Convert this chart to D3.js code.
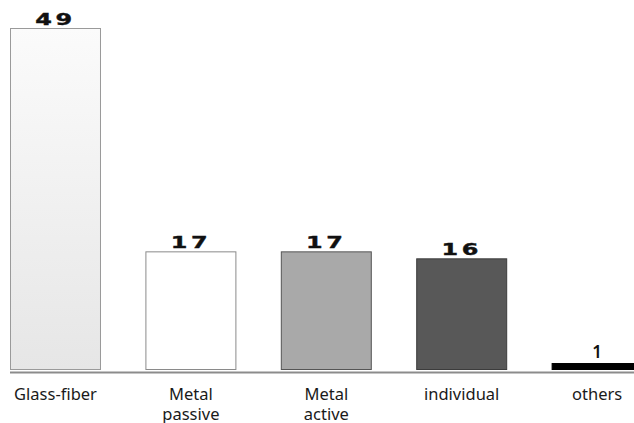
<!DOCTYPE html>
<html>
<head>
<meta charset="utf-8">
<script src="https://cdn.jsdelivr.net/npm/d3@7/dist/d3.min.js"></script>
<style>
  html, body { margin: 0; padding: 0; background: #fff; }
  svg { display: block; }
</style>
</head>
<body>
<svg id="chart" width="634" height="423"></svg>
<script>
// Categories (multi-line labels split on "|") and their counts
const categories = ["Glass-fiber", "Metal|passive", "Metal|active", "individual", "others"];
const counts = [49, 17, 17, 16, 1];
const fills = ["url(#glassGrad)", "#ffffff", "#a9a9a9", "#585858", "#000000"];
const strokes = ["#9a9a9a", "#8a8a8a", "#555555", "#3c3c3c", "#000000"];

const svg = d3.select("#chart");
const baseY = 370;

const x = d3.scaleBand()
  .domain(categories)
  .range([10, 642.6])
  .paddingInner(0.328)
  .paddingOuter(0);

const y = d3.scaleLinear()
  .domain([0, 49])
  .range([baseY, 28]);

// soft vertical gradient for the first bar
const defs = svg.append("defs");
const g = defs.append("linearGradient")
  .attr("id", "glassGrad")
  .attr("x1", 0).attr("y1", 0).attr("x2", 0).attr("y2", 1);
g.append("stop").attr("offset", "0%").attr("stop-color", "#fbfbfb");
g.append("stop").attr("offset", "100%").attr("stop-color", "#e6e6e6");

// bars
svg.append("g").selectAll("rect")
  .data(categories)
  .join("rect")
  .attr("x", d => x(d) + 0.5)
  .attr("y", (d, i) => y(counts[i]) + 0.5)
  .attr("width", x.bandwidth() - 1)
  .attr("height", (d, i) => baseY - y(counts[i]) - 1)
  .attr("fill", (d, i) => fills[i])
  .attr("stroke", (d, i) => strokes[i])
  .attr("stroke-width", 1);

// baseline
svg.append("line")
  .attr("x1", 10).attr("x2", 634)
  .attr("y1", baseY + 2.5).attr("y2", baseY + 2.5)
  .attr("stroke", "#8c8c8c")
  .attr("stroke-width", 2);

// value labels above bars
svg.append("g").selectAll("text")
  .data(categories)
  .join("text")
  .attr("transform", (d, i) => {
    const cx = x(d) + x.bandwidth() / 2;
    const cy = y(counts[i]) - (i === 4 ? 5 : 3);
    return i === 4
      ? `translate(${cx},${cy})`
      : `translate(${cx},${cy}) scale(1.45,1)`;
  })
  .attr("text-anchor", "middle")
  .attr("font-family", (d, i) => i === 4 ? "'Noto Sans', sans-serif" : "'DejaVu Sans', sans-serif")
  .attr("font-weight", (d, i) => i === 4 ? 600 : "bold")
  .attr("font-size", (d, i) => i === 4 ? 17 : 16.5)
  .attr("letter-spacing", (d, i) => i === 4 ? 0 : 2.5)
  .attr("fill", "#111")
  .attr("stroke", "#111")
  .attr("stroke-width", (d, i) => i === 4 ? 0 : 0.4)
  .text((d, i) => counts[i]);

// category labels
const labels = svg.append("g").selectAll("text")
  .data(categories)
  .join("text")
  .attr("x", d => x(d) + x.bandwidth() / 2)
  .attr("y", 400)
  .attr("text-anchor", "middle")
  .attr("font-family", "'Noto Sans', sans-serif")
  .attr("font-size", 16.5)
  .attr("fill", "#1a1a1a");

labels.each(function(d) {
  const t = d3.select(this);
  d.split("|").forEach((line, k) => {
    t.append("tspan")
      .attr("x", x(d) + x.bandwidth() / 2)
      .attr("dy", k === 0 ? 0 : 20)
      .text(line);
  });
});
</script>
</body>
</html>
